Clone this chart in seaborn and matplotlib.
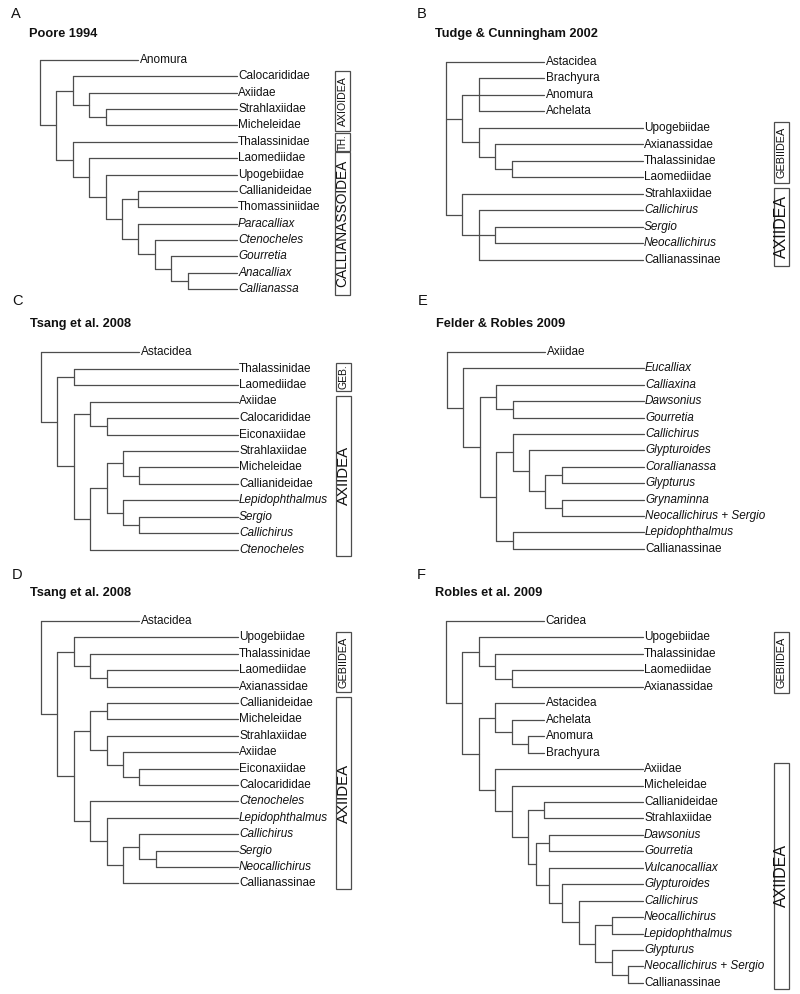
import pandas as pd
import seaborn as sns
import matplotlib.pyplot as plt
from matplotlib.patches import Rectangle

sns.set_theme(style="white")
plt.rcParams['font.family'] = ['Liberation Sans', 'DejaVu Sans']

# Trees (newick, optional branch lengths; default length 1)
tree_a = ("(Anomura,((Calocarididae,(Axiidae,(Strahlaxiidae,Micheleidae))),"
          "(Thalassinidae,(Laomediidae,(Upogebiidae,((Callianideidae,Thomassiniidae),"
          "(Paracalliax,(Ctenocheles,(Gourretia,(Anacalliax,Callianassa))))))))))")
tree_b = ("(Astacidea,((Brachyura,Anomura,Achelata),(Upogebiidae,(Axianassidae,"
          "(Thalassinidae,Laomediidae)))),(Strahlaxiidae,(Callichirus,"
          "(Sergio,Neocallichirus),Callianassinae)))")
tree_c = ("(Astacidea,((Thalassinidae,Laomediidae),((Axiidae,(Calocarididae,Eiconaxiidae)),"
          "(((Strahlaxiidae,(Micheleidae,Callianideidae)),(Lepidophthalmus,"
          "(Sergio,Callichirus))),Ctenocheles))))")
tree_d = ("(Astacidea,((Upogebiidae,(Thalassinidae,(Laomediidae,Axianassidae))),"
          "(((Callianideidae,Micheleidae),(Strahlaxiidae,(Axiidae,(Eiconaxiidae,Calocarididae)))),"
          "(Ctenocheles,(Lepidophthalmus,((Callichirus,(Sergio,Neocallichirus)),Callianassinae))))))")
tree_e = ("(Axiidae,(Eucalliax,((Calliaxina,(Dawsonius,Gourretia)),((Callichirus,"
          "(Glypturoides,((Corallianassa,Glypturus),(Grynaminna,Neocallichirus + Sergio)))),"
          "(Lepidophthalmus,Callianassinae)))))")
tree_f = ("(Caridea,((Upogebiidae,(Thalassinidae,(Laomediidae,Axianassidae))),"
          "((Astacidea,(Achelata,(Anomura,Brachyura))),(Axiidae,(Micheleidae,"
          "((Callianideidae,Strahlaxiidae),((Dawsonius,Gourretia):0.75,(Vulcanocalliax,"
          "(Glypturoides,(Callichirus,((Neocallichirus,Lepidophthalmus),(Glypturus,"
          "(Neocallichirus + Sergio,Callianassinae))))):0.85):0.75):0.5))))))")

# outgroups drawn with short terminal branches
short_a = ["Anomura"]
short_b = ["Astacidea", "Brachyura", "Anomura", "Achelata"]
short_c = ["Astacidea"]
short_d = ["Astacidea"]
short_e = ["Axiidae"]
short_f = ["Caridea", "Astacidea", "Achelata", "Anomura", "Brachyura"]

# bracketed groups: label, first taxon, last taxon
groups_a = [("AXIOIDEA", "Calocarididae", "Micheleidae"),
            ("TH.", "Thalassinidae", "Thalassinidae"),
            ("CALLIANASSOIDEA", "Laomediidae", "Callianassa")]
groups_b = [("GEBIIDEA", "Upogebiidae", "Laomediidae"),
            ("AXIIDEA", "Strahlaxiidae", "Callianassinae")]
groups_c = [("GEB.", "Thalassinidae", "Laomediidae"),
            ("AXIIDEA", "Axiidae", "Ctenocheles")]
groups_d = [("GEBIIDEA", "Upogebiidae", "Axianassidae"),
            ("AXIIDEA", "Callianideidae", "Callianassinae")]
groups_e = []
groups_f = [("GEBIIDEA", "Upogebiidae", "Axianassidae"),
            ("AXIIDEA", "Axiidae", "Callianassinae")]

letters = ["A", "B", "C", "E", "D", "F"]
titles = ["Poore 1994", "Tudge & Cunningham 2002", "Tsang et al. 2008",
          "Felder & Robles 2009", "Tsang et al. 2008", "Robles et al. 2009"]

# layout in pixels: root x, first leaf y, leaf spacing, box x (tree units),
# letter baseline, title baseline
layout = {
    "A": dict(x0=40, y0=60, dy=16.36, bx=18.0, ly=18, ty=37),
    "B": dict(x0=446, y0=62, dy=16.5, bx=20.0, ly=18, ty=37),
    "C": dict(x0=41, y0=352, dy=16.5, bx=18.0, ly=305, ty=327),
    "E": dict(x0=447, y0=352, dy=16.4, bx=20.0, ly=305, ty=327),
    "D": dict(x0=41, y0=621, dy=16.4, bx=18.0, ly=579, ty=596),
    "F": dict(x0=446, y0=621, dy=16.45, bx=20.0, ly=579, ty=596),
}
# font sizes of the bracket labels
box_font = {"AXIOIDEA": 7.6, "TH.": 7.1, "CALLIANASSOIDEA": 9.9, "GEB.": 7.5,
            "GEBIIDEA": 7.8}
axiidea_font = {"B": 11.5, "C": 10.8, "D": 10.8, "F": 11.5}

W, H = 800, 994
STEP = 16.4
LONG, SHORT = 12, 6
LINE = "#4d4d4d"


def parse(s):
    pos = 0

    def node():
        nonlocal pos
        kids, name = [], None
        if s[pos] == "(":
            pos += 1
            kids.append(node())
            while s[pos] == ",":
                pos += 1
                kids.append(node())
            pos += 1
        else:
            start = pos
            while s[pos] not in ",():":
                pos += 1
            name = s[start:pos].strip()
        length = 1.0
        if pos < len(s) and s[pos] == ":":
            pos += 1
            start = pos
            while pos < len(s) and s[pos] not in ",()":
                pos += 1
            length = float(s[start:pos])
        return {"name": name, "kids": kids, "len": length}

    return node()


def tree_layout(tree, short):
    leaves, rows = [], []

    def seg(xa, ya, xb, yb):
        k = len(rows) // 2
        rows.append((k, xa, ya))
        rows.append((k, xb, yb))

    def walk(n, xp, x):
        if not n["kids"]:
            i = len(leaves)
            tip = SHORT if n["name"] in short else LONG
            leaves.append((n["name"], tip))
            seg(xp, i, tip, i)
            return i
        ys = [walk(k, x, x + k["len"]) for k in n["kids"]]
        y = (ys[0] + ys[-1]) / 2
        seg(x, ys[0], x, ys[-1])
        if xp is not None:
            seg(xp, y, x, y)
        return y

    walk(tree, None, 0.0)
    return leaves, pd.DataFrame(rows, columns=["seg", "x", "y"])


def is_genus(name):
    return not name.endswith(("idae", "inae", "idea", "ura", "ata"))


trees = [tree_a, tree_b, tree_c, tree_e, tree_d, tree_f]
shorts = [short_a, short_b, short_c, short_e, short_d, short_f]
groupsets = [groups_a, groups_b, groups_c, groups_e, groups_d, groups_f]

fig = plt.figure(figsize=(W / 100, H / 100), dpi=100)

for letter, title, nwk, short, groups in zip(letters, titles, trees, shorts, groupsets):
    L = layout[letter]
    leaves, df = tree_layout(parse(nwk), short)
    n = len(leaves)
    xmax = 21
    ax = fig.add_axes([L["x0"] / W, 1 - (L["y0"] + (n - 1) * L["dy"]) / H,
                       xmax * STEP / W, (n - 1) * L["dy"] / H])
    sns.lineplot(data=df, x="x", y="y", units="seg", estimator=None, sort=False,
                 color=LINE, linewidth=0.9, legend=False, clip_on=False, ax=ax)
    ax.set_xlim(0, xmax)
    ax.set_ylim(n - 1, 0)
    ax.axis("off")

    names = [nm for nm, _ in leaves]
    for i, (nm, tip) in enumerate(leaves):
        ax.text(tip + 0.08, i, nm, ha="left", va="center", fontsize=8.5,
                style="italic" if is_genus(nm) else "normal", color="#111111")

    for label, first, last in groups:
        i0, i1 = names.index(first), names.index(last)
        pad = 0.55 if i0 == i1 else 0.35
        top, bot = i0 - pad, i1 + pad
        ax.add_patch(Rectangle((L["bx"], top), 15 / STEP, bot - top, fill=False,
                               edgecolor=LINE, linewidth=0.9, clip_on=False))
        fs = axiidea_font[letter] if label == "AXIIDEA" else box_font[label]
        ax.text(L["bx"] + 7.5 / STEP, (top + bot) / 2, label, rotation=90,
                ha="center", va="center", fontsize=fs, color="#111111")

    fig.text((L["x0"] - 29) / W, 1 - L["ly"] / H, letter, fontsize=10.5,
             va="baseline", color="#111111")
    fig.text((L["x0"] - 11) / W, 1 - L["ty"] / H, title, fontsize=9.2,
             fontweight="bold", va="baseline", color="#111111")

fig.savefig("out.png", dpi=100, facecolor="white")
